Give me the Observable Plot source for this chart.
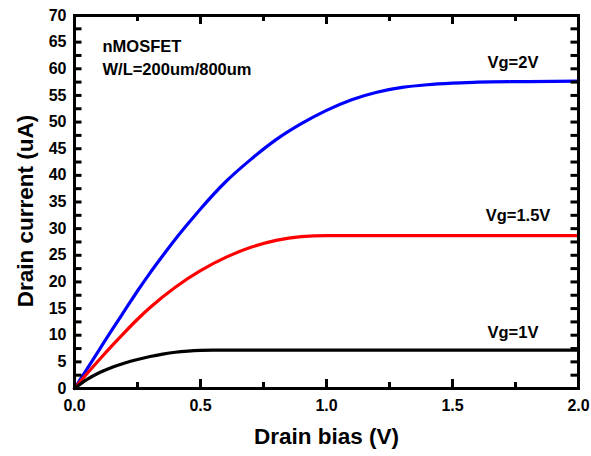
<!DOCTYPE html>
<html>
<head>
<meta charset="utf-8">
<script src="https://cdn.jsdelivr.net/npm/d3@7"></script>
<script src="https://cdn.jsdelivr.net/npm/@observablehq/plot@0.6"></script>
<style>
  body { margin: 0; background: #fff; }
  #chart svg { font-family: "Liberation Sans", Arial, sans-serif; }
</style>
</head>
<body>
<div id="chart"></div>
<script>
// Output characteristics of an nMOSFET, W/L = 200um/800um
const bias2V    = [0, 0.05, 0.1, 0.15, 0.2, 0.25, 0.3, 0.35, 0.4, 0.45, 0.5, 0.6, 0.7, 0.8, 0.9, 1.0, 1.1, 1.2, 1.3, 1.4, 1.5, 1.6, 1.8, 2.0];
const current2V = [0, 3.7, 7.4, 11.1, 14.7, 18.3, 21.7, 24.9, 28.0, 30.9, 33.7, 38.8, 43.0, 46.7, 49.7, 52.2, 54.2, 55.6, 56.5, 57.0, 57.3, 57.5, 57.6, 57.7];

const bias15V    = [0, 0.05, 0.1, 0.15, 0.2, 0.25, 0.3, 0.4, 0.5, 0.6, 0.7, 0.8, 0.9, 1.0, 1.2, 1.5, 2.0];
const current15V = [0, 2.8, 5.5, 8.1, 10.6, 13.0, 15.2, 19.0, 22.1, 24.6, 26.5, 27.8, 28.5, 28.7, 28.7, 28.7, 28.7];

const bias1V    = [0, 0.05, 0.1, 0.15, 0.2, 0.25, 0.3, 0.35, 0.4, 0.45, 0.5, 0.55, 0.6, 1.0, 2.0];
const current1V = [0, 1.7, 3.0, 4.0, 4.8, 5.45, 6.0, 6.45, 6.8, 7.02, 7.15, 7.2, 7.2, 7.2, 7.2];

const seriesNames  = ["Vg=2V", "Vg=1.5V", "Vg=1V"];
const seriesColors = ["#0000ff", "#ff0000", "#000000"];

// Curve label anchors (drain bias, drain current)
const labelBias    = [1.74, 1.76, 1.74];
const labelCurrent = [61.2, 32.4, 10.5];

const xLabelTicks = [0, 0.5, 1.0, 1.5, 2.0];
const xMinorTicks = [0.25, 0.75, 1.25, 1.75];
const yLabelTicks = d3.range(0, 70.1, 5);
const yAllTicks   = d3.range(0, 70.1, 2.5);

const xTitle = "Drain bias (V)";
const yTitle = "Drain current (uA)";
const deviceNote = "nMOSFET\nW/L=200um/800um";

const toRows = (xs, ys, name) => xs.map((x, i) => ({ bias: x, current: ys[i], series: name }));
const rows = [
  ...toRows(bias2V, current2V, seriesNames[0]),
  ...toRows(bias15V, current15V, seriesNames[1]),
  ...toRows(bias1V, current1V, seriesNames[2])
];
const labels = seriesNames.map((name, i) => ({ name, bias: labelBias[i], current: labelCurrent[i] }));

// Layout
const W = 591, H = 456;
const mL = 74, mR = 13, mT = 15, mB = 68;
const innerW = W - mL - mR, innerH = H - mT - mB;
const yTickLen = 7.5, xMajorLen = 9, xMinorLen = 6;

const bold = { fontWeight: "bold" };
const tickStyle = { stroke: "#000", strokeWidth: 3 };

const chart = Plot.plot({
  width: W,
  height: H,
  marginLeft: mL,
  marginRight: mR,
  marginTop: mT,
  marginBottom: mB,
  x: { domain: [0, 2], label: null },
  y: { domain: [0, 70], label: null },
  color: { domain: seriesNames, range: seriesColors },
  style: { fontFamily: "Liberation Sans, Arial, sans-serif", background: "#fff", color: "#000" },
  marks: [
    Plot.line(rows, { x: "bias", y: "current", z: "series", stroke: "series", strokeWidth: 3.2, curve: "monotone-x" }),
    // inward ticks on all four sides
    Plot.tickY(yAllTicks, { y: d => d, insetRight: innerW - yTickLen, ...tickStyle }),
    Plot.tickY(yAllTicks, { y: d => d, insetLeft: innerW - yTickLen, ...tickStyle }),
    Plot.tickX(xLabelTicks, { x: d => d, insetTop: innerH - xMajorLen, ...tickStyle }),
    Plot.tickX(xMinorTicks, { x: d => d, insetTop: innerH - xMinorLen, ...tickStyle }),
    Plot.tickX(xLabelTicks, { x: d => d, insetBottom: innerH - xMajorLen, ...tickStyle }),
    Plot.tickX(xMinorTicks, { x: d => d, insetBottom: innerH - xMinorLen, ...tickStyle }),
    Plot.frame({ stroke: "#000", strokeWidth: 3 }),
    // tick labels
    Plot.axisY(yLabelTicks, { anchor: "left", tickSize: 0, tickPadding: 8, fontSize: 16, label: null, ...bold }),
    Plot.axisX(xLabelTicks, { anchor: "bottom", tickSize: 0, tickPadding: 11, fontSize: 16, label: null, tickFormat: d3.format(".1f"), ...bold }),
    // curve labels
    Plot.text(labels, { x: "bias", y: "current", text: "name", fontSize: 16.5, ...bold, fill: "#000" }),
    // device note
    Plot.text([deviceNote], { frameAnchor: "top-left", dx: 28, dy: 20, lineHeight: 1.4, fontSize: 16.5, textAnchor: "start", ...bold, fill: "#000" }),
    // axis titles
    Plot.text([xTitle], { frameAnchor: "bottom", dy: 55, fontSize: 22.5, ...bold, fill: "#000" }),
    Plot.text([yTitle], { frameAnchor: "left", textAnchor: "middle", rotate: -90, dx: -49, dy: 9, fontSize: 22.5, ...bold, fill: "#000" })
  ]
});

document.getElementById("chart").appendChild(chart);
</script>
</body>
</html>
